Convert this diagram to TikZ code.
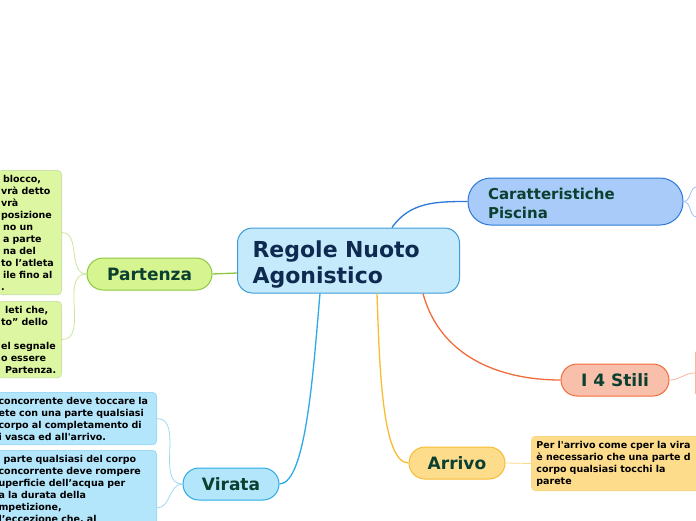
\documentclass[tikz,border=0pt]{standalone}
\usepackage{fontspec}
\setmainfont{DejaVu Sans}
\usepackage{tikz}
\usetikzlibrary{arrows.meta,calc}
\definecolor{regoleFill}{HTML}{C5EAFB}
\definecolor{regoleLine}{HTML}{3D9BD8}
\definecolor{regoleText}{HTML}{0E2A50}
\definecolor{topicText}{HTML}{0B4030}
\definecolor{caraFill}{HTML}{A8CBF9}
\definecolor{caraLine}{HTML}{2D78D6}
\definecolor{caraTwig}{HTML}{9EC0EE}
\definecolor{stiliFill}{HTML}{F8BFAA}
\definecolor{stiliLine}{HTML}{F26B3B}
\definecolor{stiliTwig}{HTML}{F7B49C}
\definecolor{arrivoFill}{HTML}{FDDC8C}
\definecolor{arrivoLine}{HTML}{F7BC32}
\definecolor{arrivoTwig}{HTML}{FAD98A}
\definecolor{virataFill}{HTML}{B3E5FB}
\definecolor{virataLine}{HTML}{2BAAE6}
\definecolor{virataTwig}{HTML}{9FD8F3}
\definecolor{partenzaFill}{HTML}{D6F590}
\definecolor{partenzaLine}{HTML}{8DC63F}
\definecolor{partenzaTwig}{HTML}{C9E79A}
\newcommand{\straightq}{\textquotesingle}

\begin{document}
\begin{tikzpicture}[x=1pt, y=1pt,
  topic/.style={draw, line width=1pt, rounded corners=16pt, minimum height=32pt,
    inner sep=0pt, font=\fontsize{17}{20}\selectfont\bfseries, text=topicText},
  note/.style={draw, line width=0.8pt, rounded corners=4pt, align=left,
    inner xsep=3pt, inner ysep=4.5pt, font=\fontsize{9.5}{12}\selectfont\bfseries, text=black},
  branch/.style={line width=1.3pt},
  twig/.style={line width=0.8pt}]
\useasboundingbox (0,0) rectangle (696,-520);
% ---------- central topic ----------
\node[draw=regoleLine, fill=regoleFill, line width=1pt, rounded corners=15pt,
  minimum width=222pt, minimum height=65pt, text width=192pt, inner xsep=15pt,
  text height=24pt, align=left, font=\fontsize{22}{26}\selectfont\bfseries, text=regoleText]
  (regole) at (348.5,-260.5) {Regole Nuoto\\Agonistico};
% ---------- main topics ----------
\node[topic, draw=caraLine, fill=caraFill, rounded corners=23pt, minimum width=215pt,
  minimum height=47pt, text width=175pt, text height=15pt, align=left,
  font=\fontsize{15}{19}\selectfont\bfseries]
  (cara) at (575.5,-201.5) {Caratteristiche\\Piscina};
\node[topic, draw=stiliLine, fill=stiliFill, minimum width=108pt] (stili) at (615,-380) {I 4 Stili};
\node[topic, draw=arrivoLine, fill=arrivoFill, minimum width=96pt] (arrivo) at (457,-463) {Arrivo};
\node[topic, draw=virataLine, fill=virataFill, minimum width=96pt] (virata) at (231,-484) {Virata};
\node[topic, draw=partenzaLine, fill=partenzaFill, minimum width=125pt] (partenza) at (149.5,-274) {Partenza};
% ---------- notes ----------
\node[note, draw=partenzaLine!45, fill=partenzaFill!85, text width=57.5pt, anchor=north east]
  (partenzaA) at (62,-170) {\hspace*{2pt}blocco,\\vrà detto\\vrà\\posizione\\\hspace*{2pt}no un\\
  \hspace*{2pt}a parte\\\hspace*{2pt}na del\\to l’atleta\\\hspace*{2pt}ile fino al\\.};
\node[note, draw=partenzaLine!45, fill=partenzaFill!85, text width=57.5pt, anchor=north east]
  (partenzaB) at (62,-301) {\hspace*{4pt}leti che,\\to” dello\\\mbox{}\\el segnale\\o essere\\
  \hspace*{4pt}Partenza.};
\node[note, draw=virataLine!45, fill=virataFill, text width=155pt, anchor=north east]
  (virataA) at (157,-392) {concorrente deve toccare la\\ete con una parte qualsiasi\\
  corpo al completamento di\\i vasca ed all\straightq arrivo.};
\node[note, draw=virataLine!45, fill=virataFill, text width=155pt, anchor=north east]
  (virataB) at (157,-450) {\hspace*{5pt}parte qualsiasi del corpo\\concorrente deve rompere\\
  uperficie dell’acqua per\\a la durata della\\mpetizione,\\l’eccezione che, al};
\node[note, draw=arrivoLine!60, fill=arrivoFill, text width=175pt, inner xsep=5pt, anchor=north west]
  (arrivoA) at (531,-436) {Per l\straightq arrivo come cper la vira\\è necessario che una parte d\\
  corpo qualsiasi tocchi la\\parete};
\node[note, draw=stiliLine!50, fill=stiliFill, minimum width=20pt, minimum height=47pt, anchor=north west]
  (stiliA) at (695,-349) {};
\coordinate (caraA) at (697,-187);
\coordinate (caraB) at (697,-217);
% ---------- branches ----------
\draw[branch, caraLine] ([xshift=43.5pt]regole.north) to[out=55,in=180] (cara.west);
\draw[branch, stiliLine] ([xshift=74.5pt]regole.south) to[out=-75,in=180] (stili.west);
\draw[branch, arrivoLine] ([xshift=28.5pt]regole.south) to[out=-88,in=180,in looseness=0.4] (arrivo.west);
\draw[branch, virataLine] ([xshift=-28.5pt]regole.south) to[out=-95,in=0,in looseness=0.35] (virata.east);
\draw[branch, partenzaLine] ([yshift=-12.5pt]regole.west) -- (partenza.east);
% ---------- twigs ----------
\draw[twig, partenzaTwig] (partenza.west) to[out=180,in=0] (partenzaA.east);
\draw[twig, partenzaTwig] (partenza.west) to[out=180,in=0] (partenzaB.east);
\draw[twig, virataTwig] (virata.west) to[out=180,in=0] (virataA.east);
\draw[twig, virataTwig] (virata.west) to[out=180,in=0] ([yshift=-58pt]virataB.north east);
\draw[twig, arrivoTwig] (arrivo.east) -- (arrivoA.west);
\draw[twig, stiliTwig] (stili.east) to[out=0,in=180] (stiliA.west);
\draw[twig, caraTwig] (cara.east) to[out=0,in=180] (caraA);
\draw[twig, caraTwig] (cara.east) to[out=0,in=180] (caraB);
\end{tikzpicture}
\end{document}
